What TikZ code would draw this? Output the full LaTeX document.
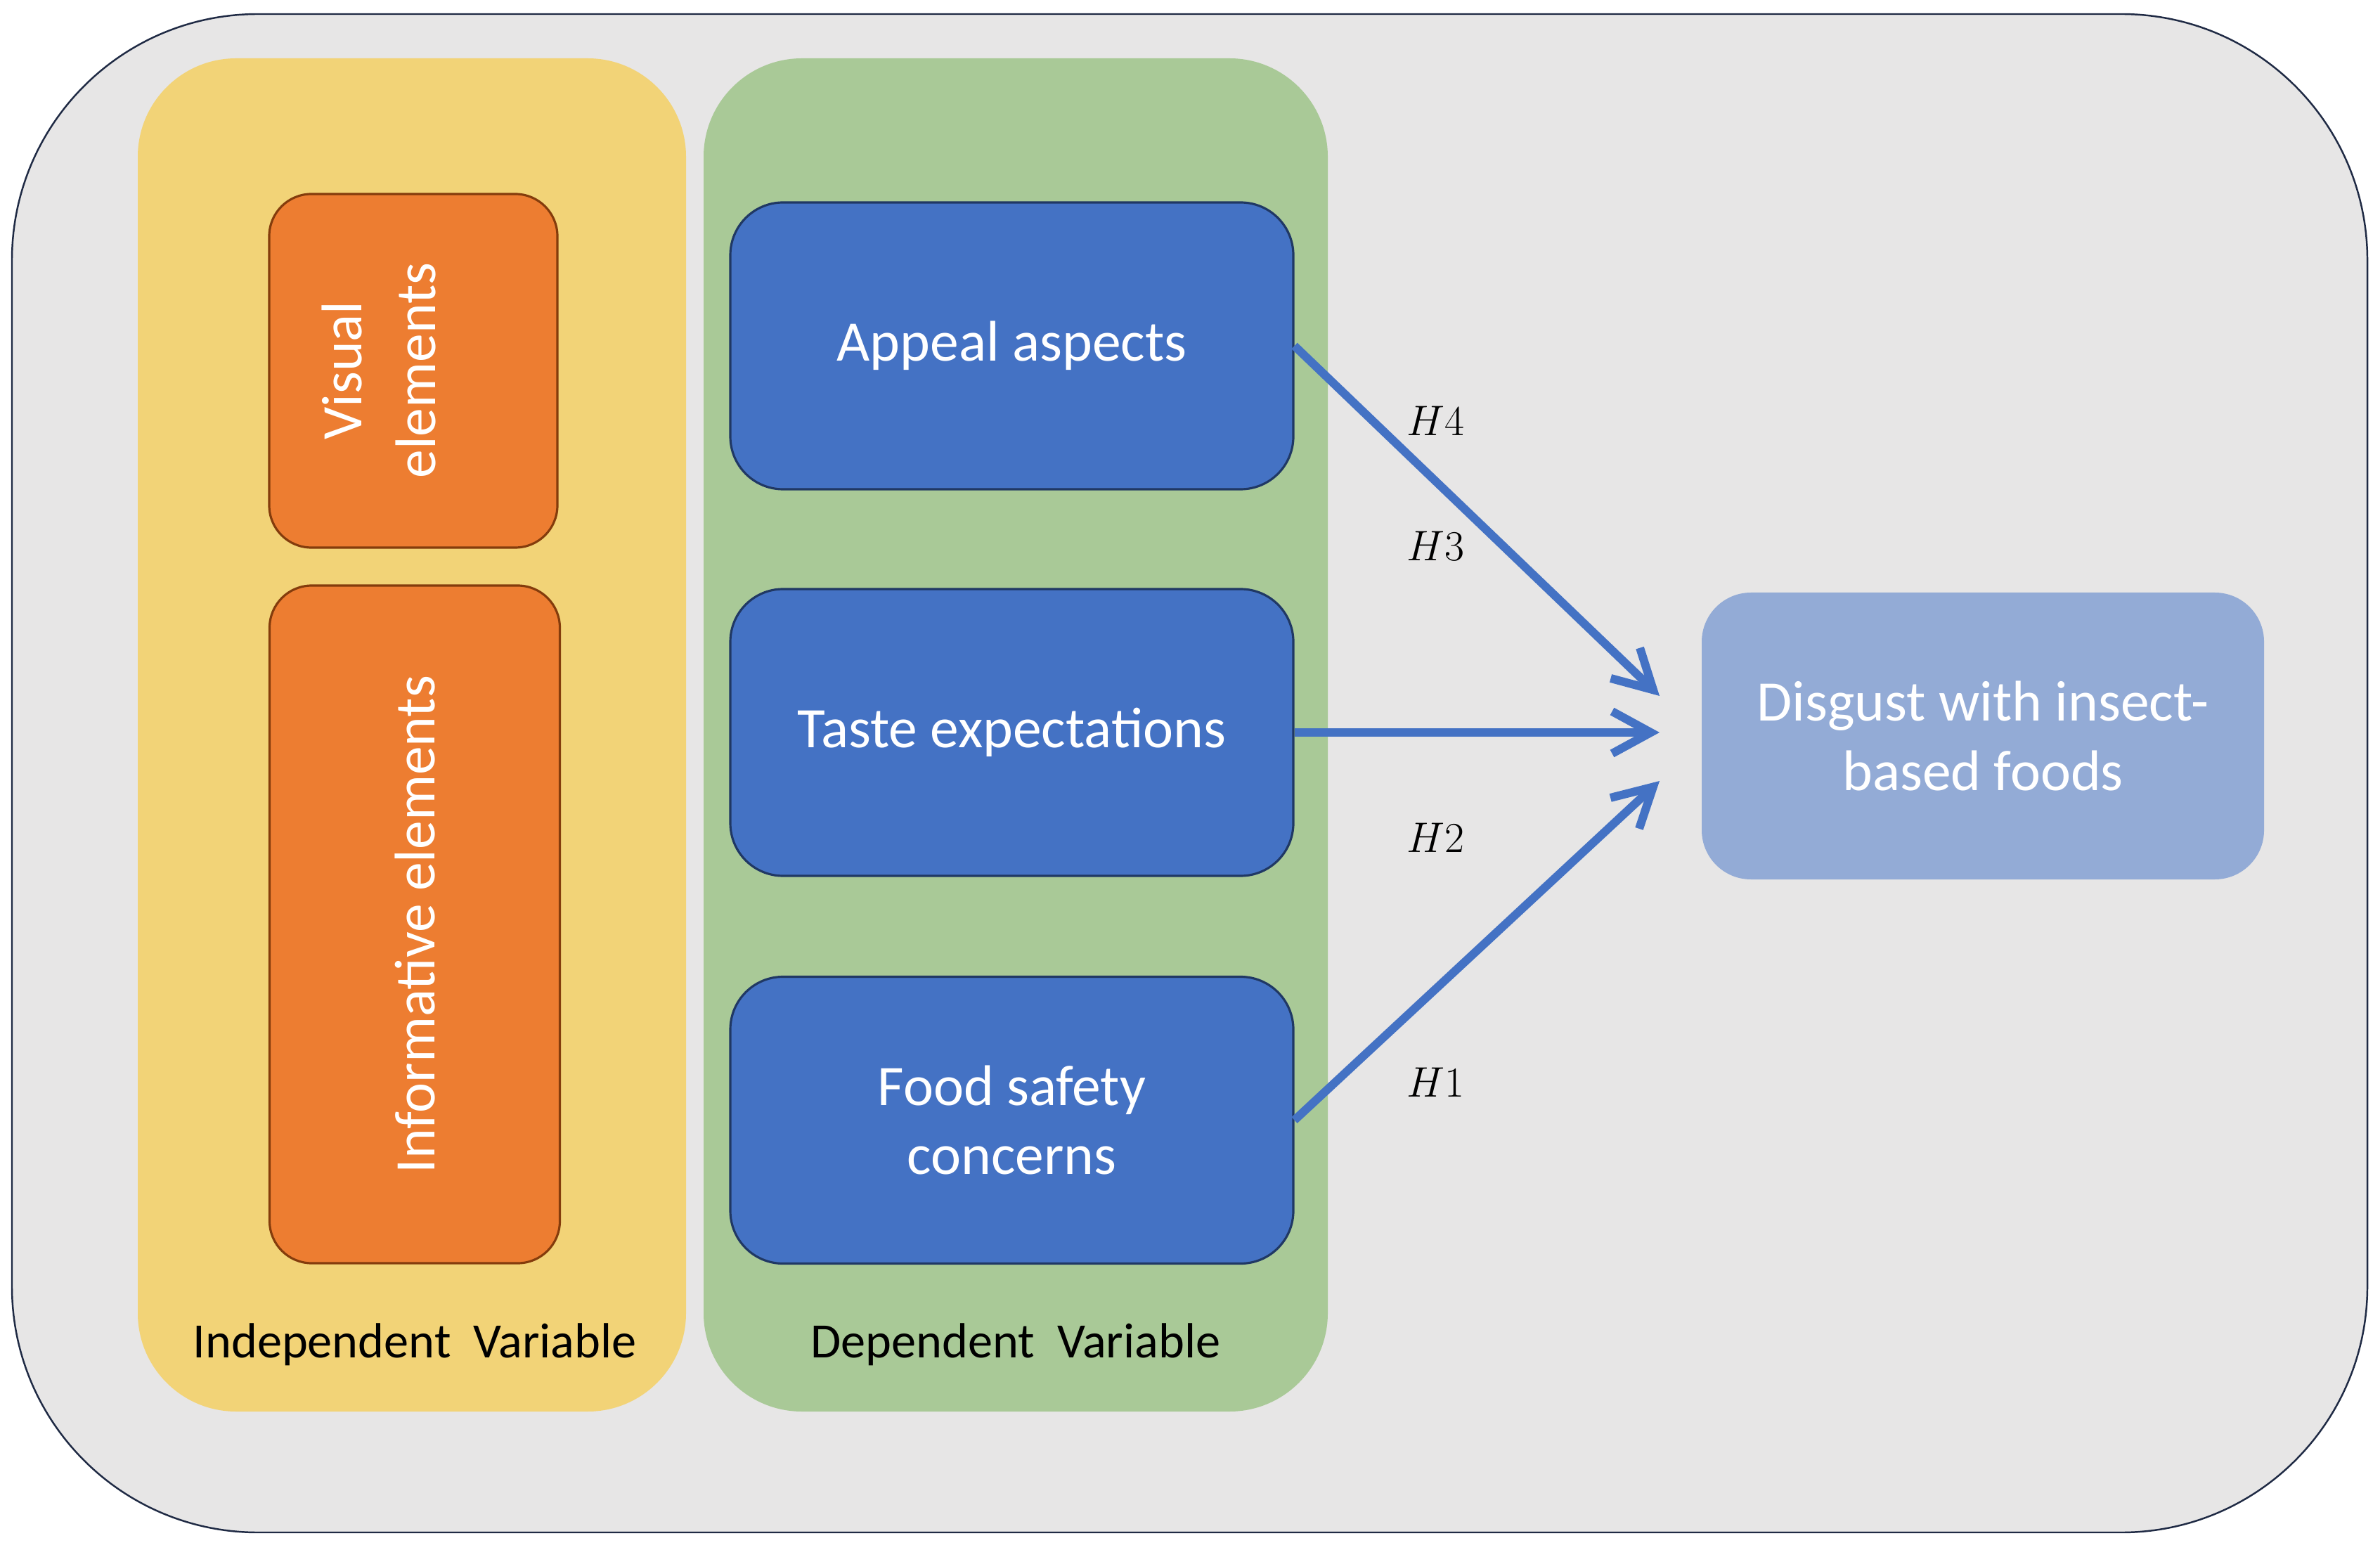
\documentclass[tikz,border=0pt]{standalone}
\usepackage{fontspec}
\setmainfont{Carlito}
\usetikzlibrary{positioning,
        shapes,
        arrows.meta}
\definecolor{bggray}{HTML}{E7E6E6}
\definecolor{framenavy}{HTML}{1F2A44}
\definecolor{panelyellow}{HTML}{F2D377}
\definecolor{panelgreen}{HTML}{A9C997}
\definecolor{boxorange}{HTML}{ED7D31}
\definecolor{orangeedge}{HTML}{843C0C}
\definecolor{boxblue}{HTML}{4472C4}
\definecolor{blueedge}{HTML}{203864}
\definecolor{lightblue}{HTML}{93ABD6}

\begin{document}
\begin{tikzpicture}[
    panel/.style={rectangle,rounded corners=1.4cm,minimum height=19.25cm},
    elembox/.style={rectangle,draw=orangeedge,line width=0.9pt,fill=boxorange,rounded corners=0.6cm},
    depbox/.style={rectangle,draw=blueedge,line width=0.9pt,fill=boxblue,rounded corners=0.75cm,
        minimum width=8.01cm,minimum height=4.08cm,text=white,align=center,font=\fontsize{23.2}{28}\selectfont},
    elemtext/.style={rotate=90,text=white,align=center,font=\fontsize{23.2}{30}\selectfont},
    hyp/.style={font=\fontsize{17}{20}\selectfont},
    effect/.style={-{Straight Barb[length=5.5mm,width=6mm]},draw=boxblue,line width=3.4pt}
]
            \useasboundingbox (0,0) rectangle (33.86,22.04);
            \node [rectangle,draw=framenavy,line width=0.7pt,fill=bggray,rounded corners=3.5cm,minimum width=33.51cm,minimum height=21.6cm] (frame) at (16.925,11.04) {};

            % panels
            \node [panel,fill=panelyellow,minimum width=7.8cm] (indep) at (5.86,11.585) {};
            \node [panel,fill=panelgreen,minimum width=8.88cm] (dep) at (14.45,11.585) {};
            \node [font=\fontsize{20}{24}\selectfont] (indeplabel) at (5.9,2.91) {Independent\ \ Variable};
            \node [font=\fontsize{20}{24}\selectfont] (deplabel) at (14.45,2.91) {Dependent\ \ Variable};

            \node [elembox,minimum width=4.1cm,minimum height=5.03cm] (visual) at (5.88,16.765) {};
            \node [elemtext] (visualtext) at (5.39,16.77) {Visual\\elements};
            \node [elembox,minimum width=4.13cm,minimum height=9.64cm] (inform) at (5.9,8.89) {};
            \node [elemtext] (informtext) at (5.9,8.89) {Informative elements};

            \node [depbox] (appeal) at (14.395,17.12) {Appeal aspects};
            \node [depbox] (taste) at (14.395,11.62) {Taste expectations};
            \node [depbox] (food) at (14.395,6.105) {Food safety\\concerns};

            \node [rectangle,fill=lightblue,rounded corners=0.7cm,minimum width=8cm,minimum height=4.08cm,
                text=white,align=center,font=\fontsize{23.2}{28}\selectfont] (disgust) at (28.21,11.57) {Disgust with insect-\\based foods};

            \coordinate (in4) at (23.61,12.14);
            \coordinate (in2) at (23.61,11.62);
            \coordinate (in1) at (23.61,10.93);
            \draw [effect] (appeal.east) -- (in4);
            \draw [effect] (taste.east) -- (in2);
            \draw [effect] (food.east) -- (in1);

            \node [hyp] (h4) at (20.42,16.05) {$H4$};
            \node [hyp] (h3) at (20.42,14.27) {$H3$};
            \node [hyp] (h2) at (20.42,10.12) {$H2$};
            \node [hyp] (h1) at (20.42,6.64) {$H1$};
        \end{tikzpicture}
\end{document}
